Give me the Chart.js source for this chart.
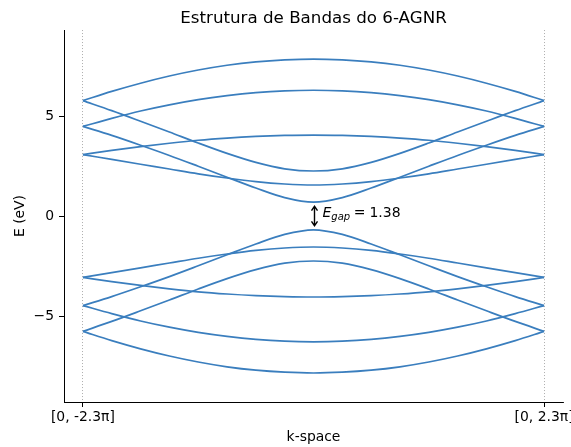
<!DOCTYPE html>
<html>
<head>
<meta charset="utf-8">
<script src="https://cdn.jsdelivr.net/npm/chart.js@4"></script>
<style>
  body { margin: 0; background: #fff; }
</style>
</head>
<body>
<canvas id="bandChart" width="571" height="447"></canvas>
<script>
// k-points, normalised so that -1 -> -2.3pi and 1 -> 2.3pi
const kPoints = [-1, -0.875, -0.75, -0.625, -0.5, -0.375, -0.25, -0.125, 0, 0.125, 0.25, 0.375, 0.5, 0.625, 0.75, 0.875, 1];
const kTicks = [-1, 1];
const kTickLabels = ['[0, -2.3π]', '[0, 2.3π]'];
const eTicks = [-5, 0, 5];
const eTickLabels = ['−5', '0', '5'];

// conduction bands (eV)
const cb1 = [5.77, 6.23, 6.64, 7.00, 7.30, 7.54, 7.71, 7.81, 7.85, 7.81, 7.71, 7.54, 7.30, 7.00, 6.64, 6.23, 5.77];
const cb2 = [4.48, 4.88, 5.25, 5.56, 5.82, 6.02, 6.17, 6.26, 6.29, 6.26, 6.17, 6.02, 5.82, 5.56, 5.25, 4.88, 4.48];
const cb3 = [3.07, 3.28, 3.47, 3.64, 3.79, 3.90, 3.98, 4.03, 4.05, 4.03, 3.98, 3.90, 3.79, 3.64, 3.47, 3.28, 3.07];
const cb4 = [3.07, 2.83, 2.59, 2.35, 2.11, 1.90, 1.72, 1.60, 1.55, 1.60, 1.72, 1.90, 2.11, 2.35, 2.59, 2.83, 3.07];
const cb5 = [4.48, 4.03, 3.54, 3.03, 2.49, 1.94, 1.40, 0.92, 0.69, 0.92, 1.40, 1.94, 2.49, 3.03, 3.54, 4.03, 4.48];
const cb6 = [5.77, 5.27, 4.74, 4.20, 3.65, 3.13, 2.68, 2.36, 2.25, 2.36, 2.68, 3.13, 3.65, 4.20, 4.74, 5.27, 5.77];

// valence bands (eV)
const vb1 = [-5.77, -6.23, -6.64, -7.00, -7.30, -7.54, -7.71, -7.81, -7.85, -7.81, -7.71, -7.54, -7.30, -7.00, -6.64, -6.23, -5.77];
const vb2 = [-4.48, -4.88, -5.25, -5.56, -5.82, -6.02, -6.17, -6.26, -6.29, -6.26, -6.17, -6.02, -5.82, -5.56, -5.25, -4.88, -4.48];
const vb3 = [-3.07, -3.28, -3.47, -3.64, -3.79, -3.90, -3.98, -4.03, -4.05, -4.03, -3.98, -3.90, -3.79, -3.64, -3.47, -3.28, -3.07];
const vb4 = [-3.07, -2.83, -2.59, -2.35, -2.11, -1.90, -1.72, -1.60, -1.55, -1.60, -1.72, -1.90, -2.11, -2.35, -2.59, -2.83, -3.07];
const vb5 = [-4.48, -4.03, -3.54, -3.03, -2.49, -1.94, -1.40, -0.92, -0.69, -0.92, -1.40, -1.94, -2.49, -3.03, -3.54, -4.03, -4.48];
const vb6 = [-5.77, -5.27, -4.74, -4.20, -3.65, -3.13, -2.68, -2.36, -2.25, -2.36, -2.68, -3.13, -3.65, -4.20, -4.74, -5.27, -5.77];

const gap = 1.38;

const bands = [cb1, cb2, cb3, cb4, cb5, cb6, vb1, vb2, vb3, vb4, vb5, vb6];
const lineColor = '#3a7ebe';
const font = 'DejaVu Sans';

const datasets = bands.map(b => ({
    data: kPoints.map((k, i) => ({ x: k, y: b[i] })),
    borderColor: lineColor,
    borderWidth: 1.7,
    pointRadius: 0,
    fill: false,
    cubicInterpolationMode: 'monotone'
}));

// double arrow + E_gap label at k = 0
const gapArrow = {
    id: 'gapArrow',
    afterDatasetsDraw(chart) {
        const { ctx, scales: { x, y } } = chart;
        const px = Math.round(x.getPixelForValue(0)) + 0.5;
        const yTop = y.getPixelForValue(gap / 2) + 4;
        const yBot = y.getPixelForValue(-gap / 2) - 4;
        const y0 = y.getPixelForValue(0);
        ctx.save();
        ctx.strokeStyle = '#000';
        ctx.lineWidth = 1.4;
        ctx.beginPath();
        ctx.moveTo(px, yTop);
        ctx.lineTo(px, yBot);
        ctx.moveTo(px - 3, yTop + 4.5);
        ctx.lineTo(px, yTop);
        ctx.lineTo(px + 3, yTop + 4.5);
        ctx.moveTo(px - 3, yBot - 4.5);
        ctx.lineTo(px, yBot);
        ctx.lineTo(px + 3, yBot - 4.5);
        ctx.stroke();

        let tx = px + 8;
        ctx.fillStyle = '#000';
        ctx.textBaseline = 'alphabetic';
        ctx.font = 'italic 14px "' + font + '"';
        ctx.fillText('E', tx, y0 + 0.5);
        tx += ctx.measureText('E').width;
        ctx.font = 'italic 10px "' + font + '"';
        ctx.fillText('gap', tx, y0 + 3.5);
        tx += ctx.measureText('gap').width + 3.5;
        ctx.font = '14px "' + font + '"';
        ctx.fillText('=', tx, y0 + 0.5);
        tx += ctx.measureText('=').width + 4;
        ctx.fillText(gap.toFixed(2), tx, y0 + 0.5);
        ctx.restore();
    }
};

new Chart(document.getElementById('bandChart'), {
    type: 'line',
    data: { datasets },
    plugins: [gapArrow],
    options: {
        responsive: false,
        animation: false,
        devicePixelRatio: 1,
        layout: { padding: { top: 0, right: 8, bottom: 0, left: 0 } },
        plugins: {
            legend: { display: false },
            tooltip: { enabled: false },
            title: {
                display: true,
                text: 'Estrutura de Bandas do 6-AGNR',
                fullSize: false,
                color: '#000',
                font: { family: font, size: 16.7, weight: 'normal' },
                padding: { top: 8.5, bottom: 1.5 }
            }
        },
        scales: {
            x: {
                type: 'linear',
                min: -1.082,
                max: 1.082,
                afterBuildTicks: s => { s.ticks = kTicks.map(v => ({ value: v })); },
                afterFit: s => { s.height = 45; s.paddingLeft = 0; s.paddingRight = 0; },
                ticks: {
                    callback: v => kTickLabels[kTicks.indexOf(v)],
                    color: '#000',
                    font: { family: font, size: 13.9 },
                    padding: 2,
                    autoSkip: false,
                    maxRotation: 0
                },
                grid: { color: '#999', lineWidth: 0.8, tickColor: '#000', tickLength: 5, tickWidth: 1, tickBorderDash: [] },
                border: { display: true, color: '#000', width: 1, dash: [1, 2] },
                title: { display: true, text: 'k-space', color: '#000', font: { family: font, size: 13.9 }, padding: { top: 0, bottom: 1.2 } }
            },
            y: {
                min: -9.3,
                max: 9.3,
                afterBuildTicks: s => { s.ticks = eTicks.map(v => ({ value: v })); },
                afterFit: s => { s.width = 64; s.paddingTop = 0; s.paddingBottom = 0; },
                ticks: {
                    callback: v => eTickLabels[eTicks.indexOf(v)],
                    color: '#000',
                    font: { family: font, size: 13.9 },
                    padding: 5
                },
                grid: { drawOnChartArea: false, tickColor: '#000', tickLength: 5, tickWidth: 1 },
                border: { display: true, color: '#000', width: 1 },
                title: { display: true, text: 'E (eV)', color: '#000', font: { family: font, size: 13.9 }, padding: { top: 12.2, bottom: 0 } }
            }
        }
    }
});
</script>
</body>
</html>
